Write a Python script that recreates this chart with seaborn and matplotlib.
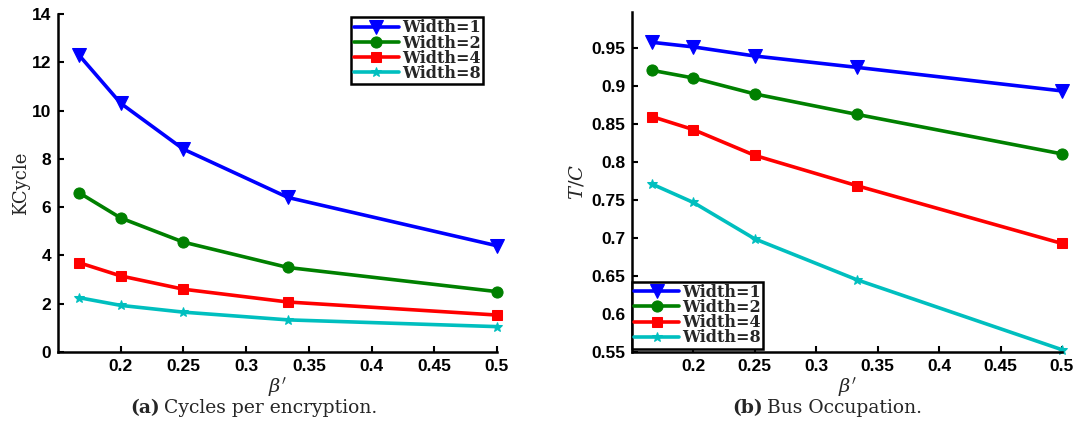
import numpy as np
import pandas as pd
import matplotlib
matplotlib.use("Agg")
import matplotlib.pyplot as plt
import seaborn as sns
from matplotlib.ticker import FormatStrFormatter

# ---- data ----
beta = [1/6, 0.2, 0.25, 1/3, 0.5]
widths = ["Width=1", "Width=2", "Width=4", "Width=8"]
kcycle_w1 = [12.3, 10.3, 8.4, 6.4, 4.4]
kcycle_w2 = [6.6, 5.55, 4.55, 3.5, 2.5]
kcycle_w4 = [3.7, 3.15, 2.6, 2.07, 1.53]
kcycle_w8 = [2.25, 1.93, 1.65, 1.33, 1.05]
tc_w1 = [0.958, 0.952, 0.940, 0.925, 0.894]
tc_w2 = [0.921, 0.911, 0.890, 0.863, 0.811]
tc_w4 = [0.860, 0.843, 0.809, 0.769, 0.693]
tc_w8 = [0.771, 0.747, 0.699, 0.645, 0.553]
x_ticks = [0.2, 0.25, 0.3, 0.35, 0.4, 0.45, 0.5]
left_yticks = [0, 2, 4, 6, 8, 10, 12, 14]
right_yticks = [0.55, 0.6, 0.65, 0.7, 0.75, 0.8, 0.85, 0.9, 0.95]

sns.set_theme(style="white")
plt.rcParams['font.family'] = ['Liberation Sans', 'DejaVu Sans']
plt.rcParams['mathtext.fontset'] = 'dejavuserif'

colors = ["#0000ff", "#008000", "#ff0000", "#00bfbf"]
markers = ["v", "o", "s", "*"]
msizes = [10, 8, 7, 7]

fig = plt.figure(figsize=(10.79, 4.46), dpi=100)
axL = fig.add_axes([0.0538, 0.2108, 0.4068, 0.7578])
axR = fig.add_axes([0.5857, 0.2108, 0.3985, 0.7623])

def draw(ax, series):
    for name, vals, c, m, ms in zip(widths, series, colors, markers, msizes):
        sns.lineplot(x=beta, y=vals, ax=ax, color=c, marker=m, markersize=ms,
                     markeredgecolor=c, markerfacecolor=c, linewidth=2.6,
                     label=name)
    ax.set_xlim(0.15, 0.5)
    ax.set_xticks(x_ticks)
    ax.xaxis.set_major_formatter(FormatStrFormatter('%g'))
    ax.yaxis.set_major_formatter(FormatStrFormatter('%g'))
    for s in ['top', 'right']:
        ax.spines[s].set_visible(False)
    for s in ['left', 'bottom']:
        ax.spines[s].set_color('black')
        ax.spines[s].set_linewidth(1.8)
    ax.tick_params(direction='in', length=4, width=1.5, colors='black',
                   labelsize=12.5, left=True, bottom=True, pad=5)
    ax.set_xlabel(r"$\beta'$", fontsize=14, labelpad=1)
    for l in ax.lines:
        l.set_clip_on(False)

draw(axL, [kcycle_w1, kcycle_w2, kcycle_w4, kcycle_w8])
axL.set_ylim(0, 14)
axL.set_yticks(left_yticks)
axL.set_ylabel("KCycle", family='DejaVu Serif', fontsize=13, labelpad=1)

draw(axR, [tc_w1, tc_w2, tc_w4, tc_w8])
axR.set_ylim(0.55, 0.998)
axR.set_yticks(right_yticks)
axR.set_ylabel(r"$T/C$", fontsize=14, labelpad=3)

legkw = dict(prop={'family': 'DejaVu Serif', 'weight': 'bold', 'size': 11.5},
             frameon=True, fancybox=False, edgecolor='black', framealpha=1,
             labelspacing=-0.12, handlelength=2.8, handletextpad=0.2,
             borderpad=0.15, borderaxespad=0.0)
legL = axL.legend(loc='upper right', bbox_to_anchor=(0.968, 0.991), **legkw)
legR = axR.legend(loc='lower left', bbox_to_anchor=(0.0, 0.01), **legkw)
for leg in (legL, legR):
    leg.get_frame().set_linewidth(1.8)
for ax in (axL, axR):
    for t in ax.get_xticklabels() + ax.get_yticklabels():
        t.set_fontweight('bold')

cap_y = 0.085
fig.text(0.1480, cap_y, "(a)", family='DejaVu Serif', weight='bold',
         fontsize=13.5, ha='right', va='center')
fig.text(0.1520, cap_y, "Cycles per encryption.", family='DejaVu Serif',
         fontsize=13.5, ha='left', va='center')
fig.text(0.7070, cap_y, "(b)", family='DejaVu Serif', weight='bold',
         fontsize=13.5, ha='right', va='center')
fig.text(0.7110, cap_y, "Bus Occupation.", family='DejaVu Serif',
         fontsize=13.5, ha='left', va='center')

fig.savefig("out.png", dpi=100)
